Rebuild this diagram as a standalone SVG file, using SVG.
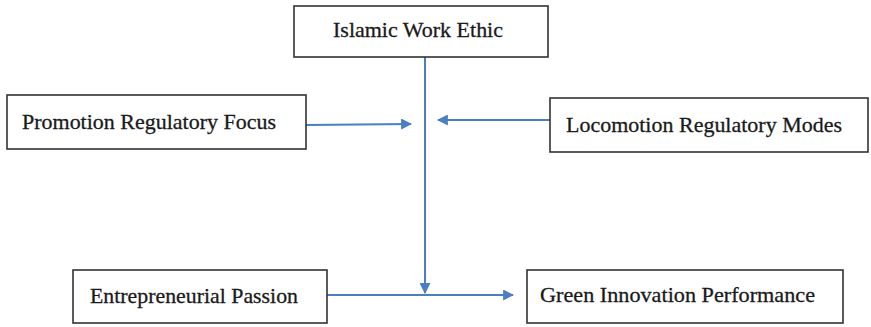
<svg xmlns="http://www.w3.org/2000/svg" width="871" height="327" viewBox="0 0 871 327">
  <style>
    .box { fill: #ffffff; stroke: #333333; stroke-width: 1.6; }
    .label { font-family: "Liberation Serif", "Times New Roman", serif; font-size: 22px; fill: #1a1a1a; stroke: #1a1a1a; stroke-width: 0.3; }
    .link { fill: none; stroke: #4a7fc0; stroke-width: 2; }
  </style>
  <defs>
    <marker id="arrow" viewBox="0 0 10 10" refX="9" refY="5" markerWidth="5.5" markerHeight="5.5" orient="auto" markerUnits="strokeWidth">
      <path d="M0,0 L10,5 L0,10 z" fill="#4a7fc0"/>
    </marker>
  </defs>
  <rect width="871" height="327" fill="#ffffff"/>

  <g id="connectors">
    <!-- moderator line from the top node down to the main path -->
    <line class="link" x1="425" y1="57" x2="425" y2="293" marker-end="url(#arrow)"/>
    <line class="link" x1="306" y1="125" x2="411" y2="124" marker-end="url(#arrow)"/>
    <line class="link" x1="550" y1="120" x2="438" y2="120" marker-end="url(#arrow)"/>
    <!-- main path -->
    <line class="link" x1="327" y1="295" x2="513" y2="295" marker-end="url(#arrow)"/>
  </g>

  <g id="islamic-work-ethic">
    <rect class="box" x="294" y="6" width="254" height="51"/>
    <text class="label" x="333" y="37" textLength="170" lengthAdjust="spacingAndGlyphs">Islamic Work Ethic</text>
  </g>

  <g id="promotion-regulatory-focus">
    <rect class="box" x="7" y="95" width="299" height="54"/>
    <text class="label" x="22" y="129" textLength="254" lengthAdjust="spacingAndGlyphs">Promotion Regulatory Focus</text>
  </g>

  <g id="locomotion-regulatory-modes">
    <rect class="box" x="550" y="98" width="318" height="54"/>
    <text class="label" x="566" y="132" textLength="276" lengthAdjust="spacingAndGlyphs">Locomotion Regulatory Modes</text>
  </g>

  <g id="entrepreneurial-passion">
    <rect class="box" x="73" y="270" width="254" height="53"/>
    <text class="label" x="90" y="303" textLength="208" lengthAdjust="spacingAndGlyphs">Entrepreneurial Passion</text>
  </g>

  <g id="green-innovation-performance">
    <rect class="box" x="527" y="270" width="316" height="53"/>
    <text class="label" x="540" y="302" textLength="275" lengthAdjust="spacingAndGlyphs">Green Innovation Performance</text>
  </g>
</svg>
